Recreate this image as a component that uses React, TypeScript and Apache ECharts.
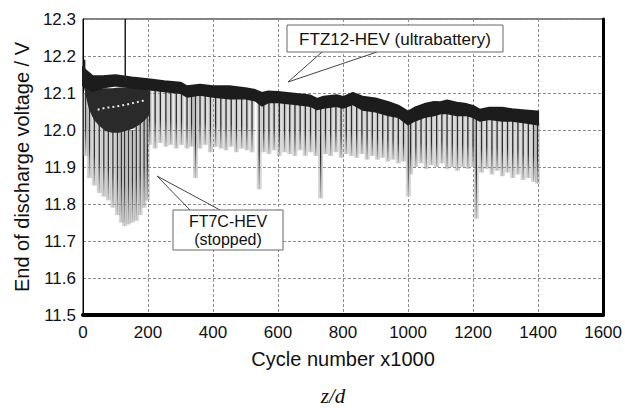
import React, { useEffect, useRef } from "react";
import * as echarts from "echarts";

// ---- Axis ticks ----
const xTicks = [0, 200, 400, 600, 800, 1000, 1200, 1400, 1600];
const yTicks = [11.5, 11.6, 11.7, 11.8, 11.9, 12.0, 12.1, 12.2, 12.3];

// ---- FTZ12-HEV (ultrabattery) band: cycle (x1000), upper and lower edge (V) ----
const ultraX = [0, 10, 30, 60, 100, 150, 200, 250, 300, 320, 360, 400, 450, 500, 530, 550, 570, 600, 650, 700, 720, 740, 780, 800, 830, 860, 900, 940, 970, 1000, 1020, 1050, 1080, 1100, 1120, 1150, 1180, 1200, 1220, 1250, 1290, 1320, 1360, 1400];
const ultraTop = [12.17, 12.16, 12.145, 12.145, 12.148, 12.142, 12.137, 12.132, 12.128, 12.118, 12.122, 12.118, 12.118, 12.113, 12.108, 12.1, 12.104, 12.103, 12.098, 12.093, 12.084, 12.09, 12.094, 12.089, 12.1, 12.09, 12.085, 12.075, 12.066, 12.05, 12.06, 12.07, 12.076, 12.075, 12.08, 12.074, 12.07, 12.065, 12.055, 12.06, 12.06, 12.056, 12.053, 12.05];
const ultraBottom = [12.12, 12.115, 12.105, 12.115, 12.12, 12.115, 12.11, 12.105, 12.1, 12.09, 12.095, 12.09, 12.085, 12.085, 12.08, 12.066, 12.075, 12.075, 12.07, 12.065, 12.056, 12.06, 12.065, 12.06, 12.07, 12.055, 12.05, 12.04, 12.035, 12.015, 12.025, 12.035, 12.04, 12.045, 12.045, 12.04, 12.04, 12.035, 12.025, 12.03, 12.025, 12.025, 12.02, 12.015];

// ---- FT7C-HEV (stopped) band ----
const ft7cX = [0, 10, 20, 35, 50, 70, 90, 110, 130, 150, 170, 190, 200];
const ft7cTop = [12.15, 12.13, 12.115, 12.11, 12.11, 12.11, 12.11, 12.112, 12.112, 12.112, 12.11, 12.108, 12.105];
const ft7cBottom = [12.14, 12.1, 12.06, 12.03, 12.015, 12.0, 11.995, 11.995, 12.0, 12.005, 12.015, 12.03, 12.04];
// upper trace of the FT7C-HEV cell (appears as a pale dotted line inside the band)
const ft7cTraceX = [45, 70, 90, 110, 130, 150, 170, 190];
const ft7cTraceV = [12.055, 12.06, 12.062, 12.065, 12.068, 12.072, 12.076, 12.08];

// ---- Discharge spikes: [cycle, top V, lowest V] ----
const ultraSpikes = [
  [205, 12.115, 11.96], [222, 12.115, 11.95], [238, 12.113, 11.965], [255, 12.11, 11.955], [270, 12.11, 11.96],
  [287, 12.108, 11.95], [303, 12.105, 11.96], [320, 12.095, 11.95], [334, 12.1, 11.955], [346, 12.1, 11.87],
  [360, 12.1, 11.95], [376, 12.098, 11.96], [392, 12.096, 11.94], [408, 12.095, 11.955], [424, 12.094, 11.95],
  [440, 12.092, 11.945], [456, 12.09, 11.955], [472, 12.09, 11.94], [488, 12.09, 11.95], [504, 12.088, 11.945],
  [520, 12.087, 11.94], [542, 12.075, 11.84], [556, 12.07, 11.94], [572, 12.08, 11.935], [588, 12.08, 11.945],
  [604, 12.08, 11.93], [620, 12.078, 11.94], [636, 12.076, 11.935], [652, 12.075, 11.93], [668, 12.074, 11.945],
  [684, 12.072, 11.93], [700, 12.07, 11.94], [716, 12.062, 11.93], [731, 12.062, 11.815], [746, 12.065, 11.935],
  [762, 12.068, 11.93], [778, 12.07, 11.94], [794, 12.066, 11.925], [810, 12.068, 11.935], [826, 12.074, 11.93],
  [842, 12.07, 11.925], [858, 12.06, 11.935], [874, 12.058, 11.92], [890, 12.056, 11.93], [906, 12.054, 11.92],
  [922, 12.05, 11.925], [938, 12.046, 11.915], [954, 12.042, 11.92], [970, 12.04, 11.91], [986, 12.03, 11.915],
  [1001, 12.02, 11.82], [1008, 12.025, 11.88], [1024, 12.03, 11.9], [1040, 12.038, 11.91], [1056, 12.042, 11.895],
  [1072, 12.045, 11.905], [1088, 12.046, 11.9], [1104, 12.05, 11.91], [1120, 12.05, 11.895], [1136, 12.048, 11.9],
  [1152, 12.045, 11.89], [1168, 12.045, 11.9], [1184, 12.045, 11.895], [1200, 12.04, 11.9], [1210, 12.032, 11.76],
  [1226, 12.03, 11.885], [1242, 12.034, 11.895], [1258, 12.035, 11.88], [1274, 12.034, 11.89], [1290, 12.03, 11.875],
  [1306, 12.03, 11.885], [1322, 12.03, 11.87], [1338, 12.028, 11.88], [1354, 12.026, 11.865], [1370, 12.025, 11.87],
  [1386, 12.022, 11.86], [1398, 12.02, 11.855],
];
const ft7cSpikes = [
  [8, 12.1, 11.93], [20, 12.06, 11.87], [35, 12.03, 11.85], [50, 12.02, 11.83], [64, 12.01, 11.82],
  [78, 12.0, 11.81], [92, 12.0, 11.79], [106, 12.0, 11.77], [118, 12.0, 11.75], [128, 12.0, 11.74],
  [140, 12.0, 11.745], [152, 12.0, 11.75], [164, 12.01, 11.755], [176, 12.02, 11.77], [188, 12.03, 11.79],
  [198, 12.04, 11.81],
];
const upSpikes = [
  [5, 12.14, 12.19], [130, 12.13, 12.3],
];

const FONT = '"Liberation Sans", Arial, Helvetica, sans-serif';

function spikeRenderer(dark: string, light: string, width: number) {
  return (params: any, api: any) => {
    const x = api.value(0);
    const p1 = api.coord([x, api.value(1)]);
    const p2 = api.coord([x, api.value(2)]);
    const shape = { x1: p1[0], y1: p1[1], x2: p2[0], y2: p2[1] };
    return {
      type: "group",
      children: [
        { type: "line", shape, style: { stroke: "rgba(150,150,150,0.4)", lineWidth: 5 } },
        {
          type: "line",
          shape,
          style: {
            stroke: new echarts.graphic.LinearGradient(0, p1[1], 0, p2[1], [
              { offset: 0, color: dark },
              { offset: 0.55, color: dark },
              { offset: 1, color: light },
            ], true),
            lineWidth: width,
          },
        },
      ],
    };
  };
}

function bandRenderer(xs: number[], tops: number[], bottoms: number[], color: string) {
  return (params: any, api: any) => {
    const pts: number[][] = [];
    for (let i = 0; i < xs.length; i++) pts.push(api.coord([xs[i], tops[i]]));
    for (let i = xs.length - 1; i >= 0; i--) pts.push(api.coord([xs[i], bottoms[i]]));
    return {
      type: "polygon",
      shape: { points: pts },
      style: { fill: color, stroke: color, lineWidth: 2, lineJoin: "round" },
    };
  };
}

export default function App() {
  const ref = useRef<HTMLDivElement>(null);
  useEffect(() => {
    const chart = echarts.init(ref.current!, null, { renderer: "svg" });
    chart.setOption({
      animation: false,
      backgroundColor: "#fff",
      grid: { left: 83, right: 18, top: 19, bottom: 93, show: true, borderColor: "#000", borderWidth: 1 },
      xAxis: {
        type: "value",
        min: xTicks[0],
        max: xTicks[xTicks.length - 1],
        interval: 200,
        name: "Cycle number x1000",
        nameLocation: "middle",
        nameGap: 34,
        nameTextStyle: { fontFamily: FONT, fontSize: 20, color: "#111" },
        axisLine: { show: true, onZero: false, lineStyle: { color: "#000", width: 4 } },
        axisTick: { show: false },
        axisLabel: { fontFamily: FONT, fontSize: 17, color: "#111", margin: 9, formatter: (v: number) => String(v) },
        splitLine: { show: true, lineStyle: { color: "#8c8c8c", width: 1, type: [3, 2] } },
      },
      yAxis: [
        {
          type: "value",
          min: yTicks[0],
          max: yTicks[yTicks.length - 1],
          interval: 0.1,
          name: "End of discharge voltage / V",
          nameLocation: "middle",
          nameGap: 51,
          nameTextStyle: { fontFamily: FONT, fontSize: 20, color: "#111" },
          axisLine: { show: true, lineStyle: { color: "#000", width: 1 } },
          axisTick: { show: false },
          axisLabel: { fontFamily: FONT, fontSize: 17, color: "#111", margin: 7, formatter: (v: number) => v.toFixed(1) },
          splitLine: { show: true, lineStyle: { color: "#8c8c8c", width: 1, type: [3, 2] } },
        },
        {
          type: "value",
          position: "right",
          min: yTicks[0],
          max: yTicks[yTicks.length - 1],
          interval: 0.1,
          axisLine: { show: true, lineStyle: { color: "#000", width: 3 } },
          axisTick: { show: false },
          axisLabel: { show: false },
          splitLine: { show: false },
        },
      ],
      series: [
        {
          type: "custom",
          name: "FT7C spikes",
          renderItem: spikeRenderer("#333", "#c8c8c8", 1.3),
          data: ft7cSpikes,
          encode: { x: 0, y: [1, 2] },
          z: 2,
        },
        {
          type: "custom",
          name: "Ultra spikes",
          renderItem: spikeRenderer("#2a2a2a", "#c0c0c0", 1.3),
          data: ultraSpikes,
          encode: { x: 0, y: [1, 2] },
          z: 2,
        },
        {
          type: "custom",
          name: "FT7C-HEV",
          renderItem: bandRenderer(ft7cX, ft7cTop, ft7cBottom, "#2a2a2a"),
          data: [[ft7cX[0], ft7cTop[0]]],
          z: 3,
        },
        {
          type: "line",
          name: "FT7C trace",
          data: ft7cTraceX.map((x, i) => [x, ft7cTraceV[i]]),
          showSymbol: false,
          symbol: "none",
          lineStyle: { color: "#e8e8e8", width: 2, type: [2, 3] },
          z: 3.5,
        },
        {
          type: "custom",
          name: "FTZ12-HEV",
          renderItem: bandRenderer(ultraX, ultraTop, ultraBottom, "#1c1c1c"),
          data: [[ultraX[0], ultraTop[0]]],
          z: 4,
        },
        {
          type: "custom",
          name: "up spikes",
          renderItem: (params: any, api: any) => {
            const x = api.value(0);
            const p1 = api.coord([x, api.value(1)]);
            const p2 = api.coord([x, api.value(2)]);
            return { type: "line", shape: { x1: p1[0], y1: p1[1], x2: p2[0], y2: p2[1] }, style: { stroke: "#222", lineWidth: 1.5 } };
          },
          data: upSpikes,
          encode: { x: 0, y: [1, 2] },
          z: 5,
        },
      ],
      graphic: [
        { type: "polyline", shape: { points: [[322, 52], [288, 82], [377, 52]] }, style: { stroke: "#444", fill: null, lineWidth: 1 }, z: 100 },
        { type: "rect", shape: { x: 287, y: 25, width: 216, height: 27 }, style: { fill: "#fff", stroke: "#666", lineWidth: 1 }, z: 101 },
        { type: "text", style: { text: "FTZ12-HEV (ultrabattery)", x: 395, y: 39, align: "center", verticalAlign: "middle", font: `17px ${FONT}`, fill: "#111" }, z: 102 },
        { type: "polyline", shape: { points: [[190, 210], [157, 176], [220, 210]] }, style: { stroke: "#444", fill: null, lineWidth: 1 }, z: 100 },
        { type: "rect", shape: { x: 173, y: 210, width: 110, height: 40 }, style: { fill: "#fff", stroke: "#666", lineWidth: 1 }, z: 101 },
        { type: "text", style: { text: "FT7C-HEV", x: 228, y: 221, align: "center", verticalAlign: "middle", font: `16px ${FONT}`, fill: "#111" }, z: 102 },
        { type: "text", style: { text: "(stopped)", x: 228, y: 239.5, align: "center", verticalAlign: "middle", font: `16px ${FONT}`, fill: "#111" }, z: 102 },
        { type: "text", style: { text: "z/d", x: 333, y: 396, align: "center", verticalAlign: "middle", font: `italic 21px "Liberation Serif", "Times New Roman", serif`, fill: "#111" }, z: 102 },
      ],
    });
    return () => chart.dispose();
  }, []);
  return <div ref={ref} style={{ position: "fixed", left: 0, top: 0, width: 625, height: 408 }} />;
}
